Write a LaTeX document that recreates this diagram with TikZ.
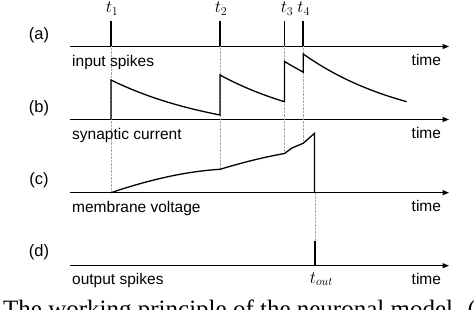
\documentclass[tikz,border=0pt]{standalone}
\usepackage{fontspec}
\setmainfont{Liberation Sans}
\newfontfamily\capfont{Liberation Serif}
\usetikzlibrary{arrows.meta, positioning, calc}

\begin{document}
\begin{tikzpicture}[
    x=1pt, y=-1pt,
    timeaxis/.style={line width=1.1pt, -{Triangle[length=6.5pt, width=5pt]}},
    spike/.style={line width=1.7pt},
    sig/.style={line width=1.3pt, line join=miter},
    guide/.style={gray!70, line width=0.4pt, densely dotted},
    lbl/.style={font=\fontsize{15.5}{18}\selectfont, inner sep=0pt, anchor=base west},
    rowlbl/.style={font=\fontsize{16.5}{18}\selectfont, inner sep=0pt, anchor=base},
    tlbl/.style={font=\fontsize{18}{20}\selectfont, inner sep=0pt, anchor=base}
]
    \useasboundingbox (0,0) rectangle (474,310);
    \clip (0,0) rectangle (474,310);

    % Time axes
    \coordinate (a0) at (70,46.5);  \coordinate (a1) at (449,46.5);
    \coordinate (b0) at (70,119.5); \coordinate (b1) at (449,119.5);
    \coordinate (c0) at (70,192.7); \coordinate (c1) at (449,192.7);
    \coordinate (d0) at (70,265.7); \coordinate (d1) at (449,265.7);
    \draw [timeaxis] (a0) -- (a1);
    \draw [timeaxis] (b0) -- (b1);
    \draw [timeaxis] (c0) -- (c1);
    \draw [timeaxis] (d0) -- (d1);

    % Spike times on axis (a)
    \coordinate (top) at (0,21);
    \coordinate (t1) at (111,46.5);
    \coordinate (t2) at (220,46.5);
    \coordinate (t3) at (284.5,46.5);
    \coordinate (t4) at (303.2,46.5);
    \coordinate (tout) at (315,192.7);

    % Dotted guides
    \draw [guide] (t1) -- (t1 |- c0);
    \draw [guide] (t2) -- (220,169.3);
    \draw [guide] (t3) -- (284.5,153.5);
    \draw [guide] (t4) -- (303.2,143.3);
    \draw [guide] (tout) -- (tout |- 0,240.7);

    % (a) input spikes
    \draw [spike] (t1) -- (t1 |- top);
    \draw [spike] (t2) -- (t2 |- top);
    \draw [spike] (t3) -- (t3 |- top);
    \draw [spike] (t4) -- (t4 |- top);
    \node (lt1) [tlbl] at ([xshift=1pt]t1 |- 0,13) {$t_1$};
    \node (lt2) [tlbl] at ([xshift=1pt]t2 |- 0,13) {$t_2$};
    \node (lt3) [tlbl] at ([xshift=2.5pt]t3 |- 0,13) {$t_3$};
    \node (lt4) [tlbl] at ([xshift=0.5pt]t4 |- 0,13) {$t_4$};

    % (b) synaptic current
    \draw [sig] (t1 |- b0) -- (111,80)
        .. controls (147.3,97.8) and (183.7,107.8) .. (220,115)
        -- (220,75)
        .. controls (241.2,86.5) and (262.3,94.9) .. (284.5,101.7)
        -- (284.5,61.5)
        .. controls (290.7,65.3) and (297,68.6) .. (303.2,72.2)
        -- (303.2,54)
        .. controls (337.6,78.2) and (372,92) .. (406.7,101.7);

    % (c) membrane voltage
    \draw [sig] (t1 |- c0)
        .. controls (147,180.5) and (184,171.5) .. (220,169.3)
        .. controls (241,163) and (262,157.5) .. (284.5,153.5)
        -- (292,148) -- (303.2,143.3) -- (314.5,133.3)
        -- (314.5,192.7);

    % (d) output spike
    \draw [spike] (tout) ++(0,73) -- (tout |- 0,240.7);
    \node (ltout) [tlbl] at (321.5,283) {$t_{out}$};

    % Row labels
    \node (ra) [rowlbl] at (39,39.3) {(a)};
    \node (rb) [rowlbl] at (39,112.7) {(b)};
    \node (rc) [rowlbl] at (39,185) {(c)};
    \node (rd) [rowlbl] at (39,256.7) {(d)};

    % Axis labels
    \node (la) [lbl] at (72,66.5) {input spikes};
    \node (lb) [lbl] at (72,139.3) {synaptic current};
    \node (lc) [lbl] at (72,212.5) {membrane voltage};
    \node (ld) [lbl] at (72,284.3) {output spikes};
    \node (ta) [lbl] at (411.5,65.3) {time};
    \node (tb) [lbl] at (411.5,138.3) {time};
    \node (tc) [lbl] at (411.5,211.7) {time};
    \node (td) [lbl] at (411.5,284.3) {time};

    % Caption, cut by the page edge
    \node (cap) [anchor=base west, inner sep=0pt, font=\capfont\fontsize{25}{28}\selectfont] at (3,317) {The working principle of the neuronal model. (};
\end{tikzpicture}
\end{document}
